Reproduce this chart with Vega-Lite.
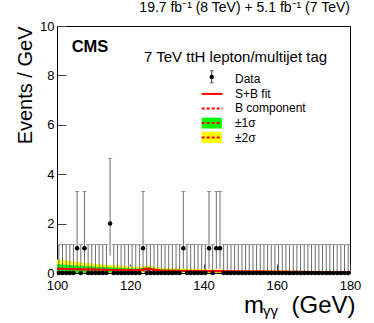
{
  "$schema": "https://vega.github.io/schema/vega-lite/v6.json",
  "width": 293,
  "height": 247,
  "autosize": {"type": "none"},
  "padding": {"left": 57, "top": 26, "right": 24, "bottom": 50},
  "background": "white",
  "config": {
    "font": "Liberation Sans",
    "view": {"stroke": "black", "strokeWidth": 1},
    "axis": {"grid": false, "domainColor": "black", "tickColor": "#444", "labelColor": "black", "labelFontSize": 13, "labelFont": "Liberation Sans", "titleFont": "Liberation Sans", "titleColor": "black"}
  },
  "title": {"text": "19.7 fb⁻¹ (8 TeV) + 5.1 fb⁻¹ (7 TeV)", "anchor": "end", "frame": "group", "fontSize": 14, "fontWeight": "normal", "offset": 5, "font": "Liberation Sans", "color": "black"},
  "datasets": {
    "bins": [
      {"m":100.5,"n":0,"lo":0,"hi":1.15},{"m":101.5,"n":0,"lo":0,"hi":1.15},{"m":102.5,"n":0,"lo":0,"hi":1.15},{"m":103.5,"n":0,"lo":0,"hi":1.15},
      {"m":104.5,"n":0,"lo":0,"hi":1.15},{"m":105.5,"n":1,"lo":0.17,"hi":3.3},{"m":106.5,"n":0,"lo":0,"hi":1.15},{"m":107.5,"n":1,"lo":0.17,"hi":3.3},
      {"m":108.5,"n":0,"lo":0,"hi":1.15},{"m":109.5,"n":0,"lo":0,"hi":1.15},{"m":110.5,"n":0,"lo":0,"hi":1.15},{"m":111.5,"n":0,"lo":0,"hi":1.15},
      {"m":112.5,"n":0,"lo":0,"hi":1.15},{"m":113.5,"n":0,"lo":0,"hi":1.15},{"m":114.5,"n":2,"lo":0.71,"hi":4.64},{"m":115.5,"n":0,"lo":0,"hi":1.15},
      {"m":116.5,"n":0,"lo":0,"hi":1.15},{"m":117.5,"n":0,"lo":0,"hi":1.15},{"m":118.5,"n":0,"lo":0,"hi":1.15},{"m":119.5,"n":0,"lo":0,"hi":1.15},
      {"m":120.5,"n":0,"lo":0,"hi":1.15},{"m":121.5,"n":0,"lo":0,"hi":1.15},{"m":122.5,"n":0,"lo":0,"hi":1.15},{"m":123.5,"n":1,"lo":0.17,"hi":3.3},
      {"m":124.5,"n":0,"lo":0,"hi":1.15},{"m":125.5,"n":0,"lo":0,"hi":1.15},{"m":126.5,"n":0,"lo":0,"hi":1.15},{"m":127.5,"n":0,"lo":0,"hi":1.15},
      {"m":128.5,"n":0,"lo":0,"hi":1.15},{"m":129.5,"n":0,"lo":0,"hi":1.15},{"m":130.5,"n":0,"lo":0,"hi":1.15},{"m":131.5,"n":0,"lo":0,"hi":1.15},
      {"m":132.5,"n":0,"lo":0,"hi":1.15},{"m":133.5,"n":0,"lo":0,"hi":1.15},{"m":134.5,"n":1,"lo":0.17,"hi":3.3},{"m":135.5,"n":0,"lo":0,"hi":1.15},
      {"m":136.5,"n":0,"lo":0,"hi":1.15},{"m":137.5,"n":0,"lo":0,"hi":1.15},{"m":138.5,"n":0,"lo":0,"hi":1.15},{"m":139.5,"n":0,"lo":0,"hi":1.15},
      {"m":140.5,"n":0,"lo":0,"hi":1.15},{"m":141.5,"n":1,"lo":0.17,"hi":3.3},{"m":142.5,"n":0,"lo":0,"hi":1.15},{"m":143.5,"n":1,"lo":0.17,"hi":3.3},
      {"m":144.5,"n":1,"lo":0.17,"hi":3.3},{"m":145.5,"n":0,"lo":0,"hi":1.15},{"m":146.5,"n":0,"lo":0,"hi":1.15},{"m":147.5,"n":0,"lo":0,"hi":1.15},
      {"m":148.5,"n":0,"lo":0,"hi":1.15},{"m":149.5,"n":0,"lo":0,"hi":1.15},{"m":150.5,"n":0,"lo":0,"hi":1.15},{"m":151.5,"n":0,"lo":0,"hi":1.15},
      {"m":152.5,"n":0,"lo":0,"hi":1.15},{"m":153.5,"n":0,"lo":0,"hi":1.15},{"m":154.5,"n":0,"lo":0,"hi":1.15},{"m":155.5,"n":0,"lo":0,"hi":1.15},
      {"m":156.5,"n":0,"lo":0,"hi":1.15},{"m":157.5,"n":0,"lo":0,"hi":1.15},{"m":158.5,"n":0,"lo":0,"hi":1.15},{"m":159.5,"n":0,"lo":0,"hi":1.15},
      {"m":160.5,"n":0,"lo":0,"hi":1.15},{"m":161.5,"n":0,"lo":0,"hi":1.15},{"m":162.5,"n":0,"lo":0,"hi":1.15},{"m":163.5,"n":0,"lo":0,"hi":1.15},
      {"m":164.5,"n":0,"lo":0,"hi":1.15},{"m":165.5,"n":0,"lo":0,"hi":1.15},{"m":166.5,"n":0,"lo":0,"hi":1.15},{"m":167.5,"n":0,"lo":0,"hi":1.15},
      {"m":168.5,"n":0,"lo":0,"hi":1.15},{"m":169.5,"n":0,"lo":0,"hi":1.15},{"m":170.5,"n":0,"lo":0,"hi":1.15},{"m":171.5,"n":0,"lo":0,"hi":1.15},
      {"m":172.5,"n":0,"lo":0,"hi":1.15},{"m":173.5,"n":0,"lo":0,"hi":1.15},{"m":174.5,"n":0,"lo":0,"hi":1.15},{"m":175.5,"n":0,"lo":0,"hi":1.15},
      {"m":176.5,"n":0,"lo":0,"hi":1.15},{"m":177.5,"n":0,"lo":0,"hi":1.15},{"m":178.5,"n":0,"lo":0,"hi":1.15},{"m":179.5,"n":0,"lo":0,"hi":1.15}
    ],
    "fit": [
      {"m":100,"b":0.170,"sb":0.170,"lo1":0.000,"hi1":0.360,"lo2":0.000,"hi2":0.550},
      {"m":105,"b":0.154,"sb":0.154,"lo1":0.004,"hi1":0.304,"lo2":0.000,"hi2":0.454},
      {"m":110,"b":0.139,"sb":0.139,"lo1":0.019,"hi1":0.259,"lo2":0.000,"hi2":0.379},
      {"m":115,"b":0.126,"sb":0.126,"lo1":0.031,"hi1":0.221,"lo2":0.000,"hi2":0.316},
      {"m":120,"b":0.114,"sb":0.114,"lo1":0.039,"hi1":0.189,"lo2":0.000,"hi2":0.264},
      {"m":122,"b":0.110,"sb":0.110,"lo1":0.040,"hi1":0.180,"lo2":0.000,"hi2":0.245},
      {"m":123,"b":0.108,"sb":0.128,"lo1":0.062,"hi1":0.194,"lo2":0.000,"hi2":0.258},
      {"m":124,"b":0.106,"sb":0.161,"lo1":0.098,"hi1":0.224,"lo2":0.036,"hi2":0.286},
      {"m":125,"b":0.103,"sb":0.173,"lo1":0.113,"hi1":0.233,"lo2":0.053,"hi2":0.293},
      {"m":126,"b":0.101,"sb":0.156,"lo1":0.098,"hi1":0.214,"lo2":0.040,"hi2":0.272},
      {"m":127,"b":0.099,"sb":0.119,"lo1":0.063,"hi1":0.175,"lo2":0.007,"hi2":0.231},
      {"m":128,"b":0.097,"sb":0.097,"lo1":0.043,"hi1":0.151,"lo2":0.000,"hi2":0.205},
      {"m":130,"b":0.093,"sb":0.093,"lo1":0.043,"hi1":0.143,"lo2":0.000,"hi2":0.193},
      {"m":135,"b":0.084,"sb":0.084,"lo1":0.041,"hi1":0.127,"lo2":0.000,"hi2":0.169},
      {"m":140,"b":0.076,"sb":0.076,"lo1":0.038,"hi1":0.114,"lo2":0.001,"hi2":0.151},
      {"m":145,"b":0.069,"sb":0.069,"lo1":0.036,"hi1":0.102,"lo2":0.004,"hi2":0.134},
      {"m":150,"b":0.063,"sb":0.063,"lo1":0.033,"hi1":0.093,"lo2":0.003,"hi2":0.123},
      {"m":155,"b":0.057,"sb":0.057,"lo1":0.029,"hi1":0.085,"lo2":0.002,"hi2":0.112},
      {"m":160,"b":0.051,"sb":0.051,"lo1":0.026,"hi1":0.076,"lo2":0.001,"hi2":0.101},
      {"m":165,"b":0.046,"sb":0.046,"lo1":0.022,"hi1":0.070,"lo2":0.000,"hi2":0.094},
      {"m":170,"b":0.042,"sb":0.042,"lo1":0.019,"hi1":0.065,"lo2":0.000,"hi2":0.088},
      {"m":175,"b":0.038,"sb":0.038,"lo1":0.015,"hi1":0.061,"lo2":0.000,"hi2":0.083},
      {"m":180,"b":0.034,"sb":0.034,"lo1":0.011,"hi1":0.057,"lo2":0.000,"hi2":0.079}
    ]
  },
  "layer": [
    {
      "data": {"name": "fit"},
      "mark": {"type": "area", "color": "#ffff00", "opacity": 1},
      "encoding": {
        "x": {"field": "m", "type": "quantitative",
          "scale": {"domain": [100, 180], "nice": false, "zero": false},
          "axis": {"title": null, "values": [100,105,110,115,120,125,130,135,140,145,150,155,160,165,170,175,180],
            "labelExpr": "datum.value % 20 === 0 ? datum.label : ''",
            "tickSize": {"expr": "datum.value % 20 === 0 ? -9 : -5"},
            "labelPadding": 15, "labelFlush": false}},
        "y": {"field": "lo2", "type": "quantitative",
          "scale": {"domain": [0, 10], "nice": false, "zero": true},
          "axis": {"title": "Events / GeV", "titleFontSize": 20, "titleFontWeight": "normal", "titleAnchor": "end",
            "values": [0,1,2,3,4,5,6,7,8,9,10],
            "labelExpr": "datum.value % 2 === 0 ? datum.label : ''",
            "tickSize": {"expr": "datum.value % 2 === 0 ? -9 : -5"},
            "labelPadding": 12, "titlePadding": 4}},
        "y2": {"field": "hi2"}
      }
    },
    {
      "data": {"name": "fit"},
      "mark": {"type": "area", "color": "#00ff00", "opacity": 1},
      "encoding": {
        "x": {"field": "m", "type": "quantitative"},
        "y": {"field": "lo1", "type": "quantitative"},
        "y2": {"field": "hi1"}
      }
    },
    {
      "data": {"name": "bins"},
      "mark": {"type": "rule", "color": "#6e6e6e", "strokeWidth": 1},
      "encoding": {
        "x": {"field": "m", "type": "quantitative"},
        "y": {"field": "lo", "type": "quantitative"},
        "y2": {"field": "hi"}
      }
    },
    {
      "data": {"name": "bins"},
      "mark": {"type": "tick", "orient": "horizontal", "color": "#6e6e6e", "size": 4, "thickness": 1},
      "encoding": {
        "x": {"field": "m", "type": "quantitative"},
        "y": {"field": "hi", "type": "quantitative"}
      }
    },
    {
      "data": {"name": "fit"},
      "mark": {"type": "line", "color": "#ff0000", "strokeWidth": 2, "strokeDash": [3, 2]},
      "encoding": {
        "x": {"field": "m", "type": "quantitative"},
        "y": {"field": "b", "type": "quantitative"}
      }
    },
    {
      "data": {"name": "fit"},
      "mark": {"type": "line", "color": "#ff0000", "strokeWidth": 2},
      "encoding": {
        "x": {"field": "m", "type": "quantitative"},
        "y": {"field": "sb", "type": "quantitative"}
      }
    },
    {
      "data": {"name": "bins"},
      "mark": {"type": "tick", "orient": "horizontal", "color": "black", "size": 3.7, "thickness": 2},
      "encoding": {
        "x": {"field": "m", "type": "quantitative"},
        "y": {"field": "n", "type": "quantitative"}
      }
    },
    {
      "data": {"name": "bins"},
      "mark": {"type": "point", "filled": true, "color": "black", "size": 20, "opacity": 1},
      "encoding": {
        "x": {"field": "m", "type": "quantitative"},
        "y": {"field": "n", "type": "quantitative"}
      }
    },
    {
      "data": {"values": [{}]},
      "layer": [
        {"mark": {"type": "rect", "color": "#ffff00"},
         "encoding": {"x": {"datum": 139.5, "type": "quantitative"}, "x2": {"datum": 145.0}, "y": {"datum": 5.26, "type": "quantitative"}, "y2": {"datum": 5.72}}},
        {"mark": {"type": "rule", "color": "#ff0000", "strokeWidth": 2, "strokeDash": [3, 2]},
         "encoding": {"x": {"datum": 139.5, "type": "quantitative"}, "x2": {"datum": 145.0}, "y": {"datum": 5.49, "type": "quantitative"}}},
        {"mark": {"type": "rect", "color": "#00ff00"},
         "encoding": {"x": {"datum": 139.5, "type": "quantitative"}, "x2": {"datum": 145.0}, "y": {"datum": 5.85, "type": "quantitative"}, "y2": {"datum": 6.29}}},
        {"mark": {"type": "rule", "color": "#ff0000", "strokeWidth": 2, "strokeDash": [3, 2]},
         "encoding": {"x": {"datum": 139.5, "type": "quantitative"}, "x2": {"datum": 145.0}, "y": {"datum": 6.07, "type": "quantitative"}}},
        {"mark": {"type": "rule", "color": "#ff0000", "strokeWidth": 2, "strokeDash": [3, 2]},
         "encoding": {"x": {"datum": 139.5, "type": "quantitative"}, "x2": {"datum": 145.2}, "y": {"datum": 6.66, "type": "quantitative"}}},
        {"mark": {"type": "rule", "color": "#ff0000", "strokeWidth": 2},
         "encoding": {"x": {"datum": 139.5, "type": "quantitative"}, "x2": {"datum": 145.2}, "y": {"datum": 7.25, "type": "quantitative"}}},
        {"mark": {"type": "rule", "color": "#333333", "strokeWidth": 1},
         "encoding": {"x": {"datum": 142.25, "type": "quantitative"}, "y": {"datum": 7.70, "type": "quantitative"}, "y2": {"datum": 8.19}}},
        {"mark": {"type": "tick", "orient": "horizontal", "color": "#333333", "size": 4, "thickness": 1},
         "encoding": {"x": {"datum": 142.25, "type": "quantitative"}, "y": {"datum": 8.19, "type": "quantitative"}}},
        {"mark": {"type": "tick", "orient": "horizontal", "color": "#333333", "size": 4, "thickness": 1},
         "encoding": {"x": {"datum": 142.25, "type": "quantitative"}, "y": {"datum": 7.70, "type": "quantitative"}}},
        {"mark": {"type": "point", "filled": true, "color": "black", "size": 20, "opacity": 1},
         "encoding": {"x": {"datum": 142.25, "type": "quantitative"}, "y": {"datum": 7.94, "type": "quantitative"}}},
        {"mark": {"type": "text", "align": "left", "baseline": "middle", "fontSize": 12, "color": "black"},
         "encoding": {"x": {"datum": 148.6, "type": "quantitative"}, "y": {"datum": 7.84, "type": "quantitative"}, "text": {"value": "Data"}}},
        {"mark": {"type": "text", "align": "left", "baseline": "middle", "fontSize": 12, "color": "black"},
         "encoding": {"x": {"datum": 148.6, "type": "quantitative"}, "y": {"datum": 7.25, "type": "quantitative"}, "text": {"value": "S+B fit"}}},
        {"mark": {"type": "text", "align": "left", "baseline": "middle", "fontSize": 12, "color": "black"},
         "encoding": {"x": {"datum": 148.6, "type": "quantitative"}, "y": {"datum": 6.66, "type": "quantitative"}, "text": {"value": "B component"}}},
        {"mark": {"type": "text", "align": "left", "baseline": "middle", "fontSize": 12, "color": "black"},
         "encoding": {"x": {"datum": 148.6, "type": "quantitative"}, "y": {"datum": 6.07, "type": "quantitative"}, "text": {"value": "±1σ"}}},
        {"mark": {"type": "text", "align": "left", "baseline": "middle", "fontSize": 12, "color": "black"},
         "encoding": {"x": {"datum": 148.6, "type": "quantitative"}, "y": {"datum": 5.48, "type": "quantitative"}, "text": {"value": "±2σ"}}},
        {"mark": {"type": "text", "align": "left", "baseline": "alphabetic", "fontSize": 16.5, "fontWeight": "bold", "color": "black"},
         "encoding": {"x": {"datum": 104.0, "type": "quantitative"}, "y": {"datum": 8.96, "type": "quantitative"}, "text": {"value": "CMS"}}},
        {"mark": {"type": "text", "align": "left", "baseline": "alphabetic", "fontSize": 15, "color": "black"},
         "encoding": {"x": {"datum": 123.75, "type": "quantitative"}, "y": {"datum": 8.55, "type": "quantitative"}, "text": {"value": "7 TeV ttH lepton/multijet tag"}}},
        {"mark": {"type": "text", "align": "left", "baseline": "alphabetic", "fontSize": 24, "color": "black"},
         "encoding": {"x": {"datum": 151.06, "type": "quantitative"}, "y": {"datum": -1.61, "type": "quantitative"}, "text": {"value": "m"}}},
        {"mark": {"type": "text", "align": "left", "baseline": "alphabetic", "fontSize": 15, "color": "black"},
         "encoding": {"x": {"datum": 156.25, "type": "quantitative"}, "y": {"datum": -1.75, "type": "quantitative"}, "text": {"value": "γγ"}}},
        {"mark": {"type": "text", "align": "right", "baseline": "alphabetic", "fontSize": 24, "color": "black"},
         "encoding": {"x": {"datum": 181.5, "type": "quantitative"}, "y": {"datum": -1.61, "type": "quantitative"}, "text": {"value": "(GeV)"}}}
      ]
    }
  ]
}
